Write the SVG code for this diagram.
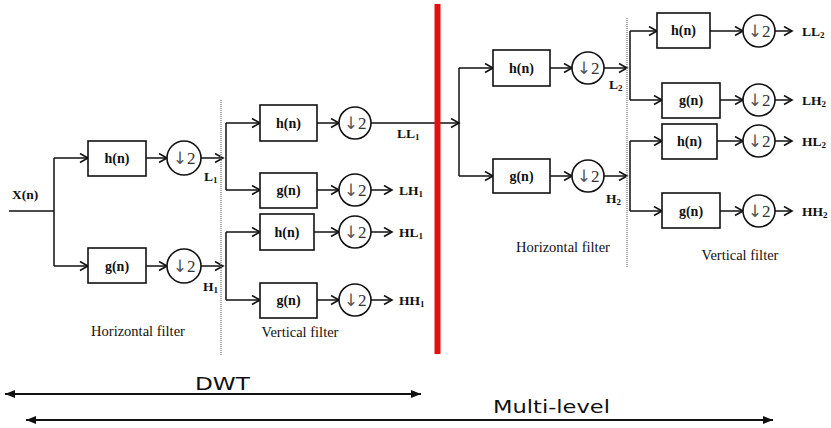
<svg xmlns="http://www.w3.org/2000/svg" width="831" height="428" viewBox="0 0 831 428">
<defs>
<marker id="open" markerUnits="userSpaceOnUse" markerWidth="12" markerHeight="12" refX="9" refY="5" orient="auto">
<path d="M1,0.5 L9,5 L1,9.5" fill="none" stroke="#111" stroke-width="1.6"/>
</marker>
<marker id="solid" markerUnits="userSpaceOnUse" markerWidth="12" markerHeight="10" refX="10" refY="4" orient="auto-start-reverse">
<path d="M0,0 L10,4 L0,8 Z" fill="#111"/>
</marker>
</defs>
<style>
.box{fill:#fff;stroke:#111;stroke-width:1.6}
.ds{fill:#fff;stroke:#111;stroke-width:1.6}
.w{stroke:#111;stroke-width:1.5;fill:none}
.a{stroke:#111;stroke-width:1.5;fill:none;marker-end:url(#open)}
.t{font-family:"Liberation Serif","Times New Roman",serif;font-weight:bold;font-size:14px;fill:#111;text-anchor:middle}
.d{font-family:"Liberation Serif","DejaVu Serif",serif;font-size:17px;fill:#333;text-anchor:middle}
.ar{font-family:"DejaVu Sans",sans-serif;font-size:17px;fill:#555}
.lb{font-family:"Liberation Serif","Times New Roman",serif;font-weight:bold;font-size:13.5px;fill:#111}
.cap{font-family:"Liberation Serif","Times New Roman",serif;font-size:14.5px;fill:#111;text-anchor:middle}
.sub{font-size:9px}
.div{stroke:#888;stroke-width:1.5;stroke-dasharray:1,1}
.big{font-family:"DejaVu Sans","Verdana",sans-serif;font-size:18px;fill:#111}
</style>
<rect width="831" height="428" fill="#fff"/>

<g id="connectors">
<path class="w" d="M9,211 H54 M54,158 V266"/>
<path class="a" d="M54,158 H88"/>
<path class="a" d="M54,266 H88"/>
<path class="a" d="M146,158 H167"/>
<path class="a" d="M146,266 H167"/>
<path class="a" d="M201,158 H223"/>
<path class="a" d="M201,266 H223"/>
<path class="w" d="M226,123 V190 M226,232 V300"/>
<path class="a" d="M226,123 H260"/>
<path class="a" d="M226,190 H260"/>
<path class="a" d="M226,232 H260"/>
<path class="a" d="M226,300 H260"/>
<path class="a" d="M317,123 H339"/>
<path class="a" d="M317,190 H339"/>
<path class="a" d="M314,232 H339"/>
<path class="a" d="M317,300 H339"/>
<path class="a" d="M371,123 H459"/>
<path class="a" d="M371,190 H392"/>
<path class="a" d="M371,232 H392"/>
<path class="a" d="M371,300 H392"/>
<path class="w" d="M459,68 V176"/>
<path class="a" d="M459,68 H493"/>
<path class="a" d="M459,176 H493"/>
<path class="a" d="M550,68 H572"/>
<path class="a" d="M550,176 H572"/>
<path class="a" d="M604,68 H627"/>
<path class="a" d="M604,176 H627"/>
<path class="w" d="M630,31 V100 M630,141 V211"/>
<path class="a" d="M630,31 H657"/>
<path class="a" d="M630,100 H662"/>
<path class="a" d="M630,141 H662"/>
<path class="a" d="M630,211 H662"/>
<path class="a" d="M710,31 H743"/>
<path class="a" d="M720,100 H743"/>
<path class="a" d="M717,141 H743"/>
<path class="a" d="M720,211 H743"/>
<path class="a" d="M775,31 H792"/>
<path class="a" d="M775,100 H792"/>
<path class="a" d="M775,141 H792"/>
<path class="a" d="M775,211 H792"/>
<line x1="5" y1="394" x2="421" y2="394" stroke="#111" stroke-width="2" marker-start="url(#solid)" marker-end="url(#solid)"/>
<line x1="26" y1="420" x2="773" y2="420" stroke="#111" stroke-width="2" marker-start="url(#solid)" marker-end="url(#solid)"/>
</g>

<line class="div" x1="221" y1="100" x2="221" y2="355"/>
<line class="div" x1="627" y1="18" x2="627" y2="268"/>
<line x1="437.5" y1="4" x2="437.5" y2="354" stroke="#e31010" stroke-width="6"/>

<text class="lb" x="12" y="199">X(n)</text>

<g id="h1"><rect class="box" x="88" y="141" width="58" height="35"/><text class="t" x="117" y="163">h(n)</text></g>
<g id="g1"><rect class="box" x="88" y="248" width="58" height="35"/><text class="t" x="117" y="271">g(n)</text></g>
<g id="d1"><circle class="ds" cx="184" cy="158" r="17"/><text class="d" x="184" y="164"><tspan class="ar">↓</tspan>2</text></g>
<g id="d2"><circle class="ds" cx="184" cy="266" r="17"/><text class="d" x="184" y="272"><tspan class="ar">↓</tspan>2</text></g>
<text class="lb" x="204" y="181">L<tspan class="sub" dy="2">1</tspan></text>
<text class="lb" x="203" y="291">H<tspan class="sub" dy="2">1</tspan></text>
<text class="cap" x="138" y="336">Horizontal filter</text>

<g id="h11"><rect class="box" x="260" y="105" width="57" height="36"/><text class="t" x="288.5" y="128">h(n)</text></g>
<g id="g11"><rect class="box" x="260" y="173" width="57" height="35"/><text class="t" x="288.5" y="195">g(n)</text></g>
<g id="h12"><rect class="box" x="260" y="214" width="54" height="36"/><text class="t" x="287" y="237">h(n)</text></g>
<g id="g12"><rect class="box" x="260" y="283" width="57" height="35"/><text class="t" x="288.5" y="305">g(n)</text></g>
<g id="d11"><circle class="ds" cx="355" cy="123" r="16"/><text class="d" x="355" y="129"><tspan class="ar">↓</tspan>2</text></g>
<g id="d12"><circle class="ds" cx="355" cy="190" r="16"/><text class="d" x="355" y="196"><tspan class="ar">↓</tspan>2</text></g>
<g id="d13"><circle class="ds" cx="355" cy="232" r="16"/><text class="d" x="355" y="238"><tspan class="ar">↓</tspan>2</text></g>
<g id="d14"><circle class="ds" cx="355" cy="300" r="16"/><text class="d" x="355" y="306"><tspan class="ar">↓</tspan>2</text></g>
<text class="lb" x="397" y="138">LL<tspan class="sub" dy="2">1</tspan></text>
<text class="lb" x="399" y="195">LH<tspan class="sub" dy="2">1</tspan></text>
<text class="lb" x="399" y="237">HL<tspan class="sub" dy="2">1</tspan></text>
<text class="lb" x="399" y="305">HH<tspan class="sub" dy="2">1</tspan></text>
<text class="cap" x="300" y="337">Vertical filter</text>

<g id="h2"><rect class="box" x="493" y="50" width="57" height="36"/><text class="t" x="521.5" y="73">h(n)</text></g>
<g id="g2"><rect class="box" x="493" y="159" width="57" height="34"/><text class="t" x="521.5" y="181">g(n)</text></g>
<g id="d21"><circle class="ds" cx="588" cy="68" r="16"/><text class="d" x="588" y="74"><tspan class="ar">↓</tspan>2</text></g>
<g id="d22"><circle class="ds" cx="588" cy="176" r="16"/><text class="d" x="588" y="182"><tspan class="ar">↓</tspan>2</text></g>
<text class="lb" x="609" y="89">L<tspan class="sub" dy="2">2</tspan></text>
<text class="lb" x="606" y="203">H<tspan class="sub" dy="2">2</tspan></text>
<text class="cap" x="563" y="252">Horizontal filter</text>

<g id="h21"><rect class="box" x="657" y="13" width="53" height="35"/><text class="t" x="683.5" y="35">h(n)</text></g>
<g id="g21"><rect class="box" x="662" y="83" width="58" height="35"/><text class="t" x="691" y="105">g(n)</text></g>
<g id="h22"><rect class="box" x="662" y="124" width="55" height="35"/><text class="t" x="689.5" y="146">h(n)</text></g>
<g id="g22"><rect class="box" x="662" y="193" width="58" height="35"/><text class="t" x="691" y="216">g(n)</text></g>
<g id="d31"><circle class="ds" cx="759" cy="31" r="16"/><text class="d" x="759" y="37"><tspan class="ar">↓</tspan>2</text></g>
<g id="d32"><circle class="ds" cx="759" cy="100" r="16"/><text class="d" x="759" y="106"><tspan class="ar">↓</tspan>2</text></g>
<g id="d33"><circle class="ds" cx="759" cy="141" r="16"/><text class="d" x="759" y="147"><tspan class="ar">↓</tspan>2</text></g>
<g id="d34"><circle class="ds" cx="759" cy="211" r="16"/><text class="d" x="759" y="217"><tspan class="ar">↓</tspan>2</text></g>
<text class="lb" x="802" y="36">LL<tspan class="sub" dy="2">2</tspan></text>
<text class="lb" x="802" y="105">LH<tspan class="sub" dy="2">2</tspan></text>
<text class="lb" x="802" y="146">HL<tspan class="sub" dy="2">2</tspan></text>
<text class="lb" x="802" y="216">HH<tspan class="sub" dy="2">2</tspan></text>
<text class="cap" x="740" y="260">Vertical filter</text>

<text class="big" x="195" y="390" textLength="55" lengthAdjust="spacingAndGlyphs">DWT</text>
<text class="big" x="493" y="413" textLength="117" lengthAdjust="spacingAndGlyphs">Multi-level</text>
</svg>
